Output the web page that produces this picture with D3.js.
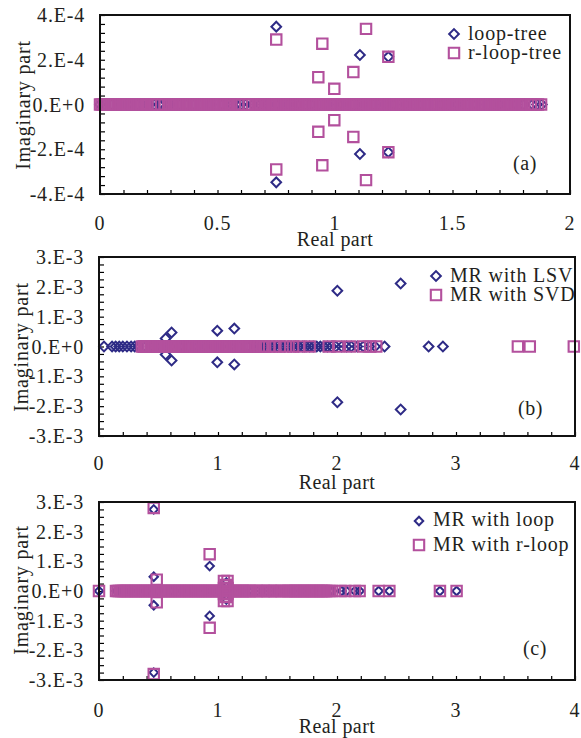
<!DOCTYPE html>
<html>
<head>
<meta charset="utf-8">
<script src="https://cdn.jsdelivr.net/npm/d3@7"></script>
<style>
body { margin: 0; background: #fff; }
svg text { font-family: "Liberation Serif", "Times New Roman", serif; fill: #231f20; }
</style>
</head>
<body>
<div id="chart"></div>
<script>
// Eigenvalue scatter plots, three panels stacked: (a), (b), (c).
// Each series is split into eigenvalues lying on the real axis and
// complex conjugate pairs (real part, |imaginary part|).

// ---------- Panel (a) ----------
var realTicksA = [0, 0.5, 1, 1.5, 2];
var realLabelsA = ['0', '0.5', '1', '1.5', '2'];
var imagTicksA = [4e-4, 2e-4, 0, -2e-4, -4e-4];
var imagLabelsA = ['4.E-4', '2.E-4', '0.E+0', '-2.E-4', '-4.E-4'];
var seriesNamesA = ['loop-tree', 'r-loop-tree'];

var loopTreeRealA = [0.000, 0.020, 0.050, 0.090, 0.100, 0.120, 0.130, 0.160, 0.200, 0.210,
	0.230, 0.250, 0.260, 0.290, 0.300, 0.340, 0.370, 0.400, 0.430, 0.470, 0.520, 0.560,
	0.580, 0.600, 0.620, 0.650, 0.680, 0.710, 0.750, 0.800, 0.840, 0.900, 0.970, 1.030,
	1.120, 1.210, 1.250, 1.300, 1.360, 1.450, 1.520, 1.600, 1.700, 1.770, 1.800, 1.840,
	1.860, 1.880];
var loopTreePairReA = [0.750, 1.106, 1.227];
var loopTreePairImA = [3.48e-4, 2.21e-4, 2.13e-4];

var rLoopTreeRealA = [0.000, 0.007, 0.015, 0.021, 0.030, 0.037, 0.045, 0.052, 0.058, 0.066,
	0.075, 0.083, 0.089, 0.097, 0.104, 0.112, 0.119, 0.126, 0.134, 0.141,
	0.149, 0.157, 0.164, 0.172, 0.178, 0.186, 0.193, 0.201, 0.216,
	0.231, 0.246, 0.261, 0.275, 0.290,
	0.298, 0.306, 0.313, 0.321, 0.327, 0.335, 0.342, 0.350, 0.357, 0.365,
	0.372, 0.380, 0.387, 0.395, 0.402, 0.410, 0.416, 0.424, 0.431, 0.439,
	0.447, 0.454, 0.462, 0.469, 0.477, 0.484, 0.491, 0.499, 0.506, 0.514,
	0.521, 0.529, 0.536, 0.544, 0.551, 0.558, 0.573, 0.588,
	0.603, 0.618, 0.633, 0.648, 0.663,
	0.670, 0.678, 0.685, 0.693, 0.700, 0.707, 0.715, 0.722, 0.730, 0.737,
	0.745, 0.752, 0.760, 0.767, 0.774, 0.782, 0.789, 0.797, 0.804, 0.812,
	0.819, 0.826, 0.834, 0.841, 0.849, 0.856, 0.863, 0.871, 0.878, 0.886,
	0.893, 0.901, 0.908, 0.915, 0.923, 0.930, 0.938, 0.945, 0.952, 0.960,
	0.967, 0.975, 0.982, 0.989, 0.997, 1.004, 1.012, 1.019, 1.027, 1.034,
	1.041, 1.049, 1.056, 1.064, 1.071, 1.078, 1.086, 1.093, 1.101, 1.108,
	1.115, 1.123, 1.130, 1.138, 1.145, 1.153, 1.160, 1.167, 1.175, 1.182,
	1.190, 1.197, 1.204, 1.212, 1.219, 1.227, 1.234, 1.241, 1.249, 1.256,
	1.264, 1.271, 1.279, 1.286, 1.293, 1.301, 1.308, 1.316, 1.323, 1.330,
	1.338, 1.345, 1.353, 1.360, 1.367, 1.375, 1.382, 1.390, 1.397, 1.405,
	1.412, 1.419, 1.427, 1.434, 1.442, 1.449, 1.456, 1.464, 1.471, 1.479,
	1.486, 1.494, 1.501, 1.508, 1.516, 1.523, 1.531, 1.538, 1.545, 1.553,
	1.560, 1.568, 1.575, 1.582, 1.590, 1.597, 1.605, 1.612, 1.620, 1.627,
	1.634, 1.642, 1.649, 1.657, 1.664, 1.671, 1.679, 1.686, 1.694, 1.701,
	1.708, 1.716, 1.723, 1.731, 1.738, 1.746, 1.753, 1.760, 1.768, 1.775,
	1.783, 1.790, 1.797, 1.805, 1.820, 1.834, 1.849, 1.864, 1.877];
var rLoopTreePairReA = [0.750, 0.929, 0.946, 0.997, 1.078, 1.132, 1.227];
var rLoopTreePairImA = [2.90e-4, 1.22e-4, 2.72e-4, 0.70e-4, 1.45e-4, 3.38e-4, 2.13e-4];

// ---------- Panel (b) ----------
var realTicksB = [0, 1, 2, 3, 4];
var realLabelsB = ['0', '1', '2', '3', '4'];
var imagTicksB = [3e-3, 2e-3, 1e-3, 0, -1e-3, -2e-3, -3e-3];
var imagLabelsB = ['3.E-3', '2.E-3', '1.E-3', '0.E+0', '-1.E-3', '-2.E-3', '-3.E-3'];
var seriesNamesB = ['MR with LSV', 'MR with SVD'];

var lsvRealB = [0.042, 0.110, 0.140, 0.170, 0.200, 0.235, 0.270, 0.300, 0.330,
	0.390, 0.450, 0.520, 0.600, 0.680, 0.750, 0.830, 0.900, 0.970, 1.020, 1.100, 1.180,
	1.250, 1.310, 1.350, 1.380, 1.410, 1.440, 1.470, 1.500, 1.530, 1.560, 1.590, 1.620,
	1.650, 1.680, 1.710, 1.740, 1.770, 1.800, 1.830, 1.860, 1.890, 1.920, 1.955, 1.990,
	2.040, 2.080, 2.120, 2.170, 2.220, 2.270, 2.320, 2.400, 2.770, 2.890];
var lsvPairReB = [0.560, 0.610, 0.994, 1.137, 2.003, 2.535];
var lsvPairImB = [0.27e-3, 0.47e-3, 0.53e-3, 0.60e-3, 1.87e-3, 2.11e-3];

var svdRealB = [0.360, 0.375, 0.389, 0.404, 0.419, 0.434, 0.449, 0.463, 0.478, 0.493,
	0.508, 0.523, 0.537, 0.552, 0.567, 0.582, 0.597, 0.611, 0.626, 0.641,
	0.656, 0.671, 0.685, 0.700, 0.715, 0.730, 0.745, 0.759, 0.774, 0.789,
	0.804, 0.819, 0.833, 0.848, 0.863, 0.878, 0.893, 0.907, 0.922, 0.937,
	0.952, 0.967, 0.981, 0.996, 1.011, 1.026, 1.041, 1.055, 1.070, 1.085,
	1.100, 1.115, 1.129, 1.144, 1.159, 1.174, 1.189, 1.203, 1.218, 1.233,
	1.248, 1.263, 1.277, 1.292, 1.318, 1.343, 1.370, 1.396,
	1.430, 1.470, 1.520, 1.570, 1.630, 1.680, 1.770, 1.930, 2.010, 2.110, 2.220, 2.280,
	2.330, 3.520, 3.620, 3.990];

// ---------- Panel (c) ----------
var realTicksC = [0, 1, 2, 3, 4];
var realLabelsC = ['0', '1', '2', '3', '4'];
var imagTicksC = [3e-3, 2e-3, 1e-3, 0, -1e-3, -2e-3, -3e-3];
var imagLabelsC = ['3.E-3', '2.E-3', '1.E-3', '0.E+0', '-1.E-3', '-2.E-3', '-3.E-3'];
var seriesNamesC = ['MR with loop', 'MR with r-loop'];

var loopRealC = [0.000, 0.148, 0.160, 0.200, 0.260, 0.330, 0.400, 0.500, 0.600, 0.700,
	0.800, 0.900, 1.000, 1.120, 1.200, 1.290, 1.330, 1.370, 1.410, 1.450, 1.500, 1.560,
	1.620, 1.700, 1.800, 1.900, 1.940, 1.960, 2.040, 2.080, 2.150, 2.190, 2.350, 2.440,
	2.865, 3.005];
var loopPairReC = [0.460, 0.460, 0.930, 1.070];
var loopPairImC = [0.48e-3, 2.75e-3, 0.84e-3, 0.29e-3];

var rLoopRealC = [0.000, 0.143, 0.158, 0.172, 0.187, 0.202, 0.217, 0.232, 0.246, 0.261, 0.276,
	0.291, 0.306, 0.320, 0.335, 0.350, 0.365, 0.380, 0.394, 0.409, 0.424,
	0.439, 0.454, 0.468, 0.483, 0.498, 0.513, 0.528, 0.542, 0.557, 0.572,
	0.587, 0.602, 0.616, 0.631, 0.646, 0.661, 0.676, 0.690, 0.705, 0.720,
	0.735, 0.750, 0.764, 0.779, 0.794, 0.809, 0.824, 0.838, 0.853, 0.868,
	0.883, 0.898, 0.912, 0.927, 0.942, 0.957, 0.972, 0.986, 1.001, 1.016,
	1.031, 1.046, 1.060, 1.075, 1.090, 1.105, 1.120, 1.134, 1.149, 1.164,
	1.179, 1.194, 1.208, 1.223, 1.238, 1.253, 1.268, 1.282, 1.297,
	1.327, 1.342, 1.356, 1.386, 1.401, 1.416, 1.445, 1.460,
	1.475, 1.504, 1.519, 1.534, 1.564, 1.578, 1.593, 1.608,
	1.623, 1.638, 1.652, 1.667, 1.682, 1.697, 1.712, 1.726, 1.741, 1.756,
	1.771, 1.786, 1.800, 1.815, 1.830, 1.845, 1.860, 1.874, 1.889, 1.904,
	1.919, 1.934, 1.960, 2.030, 2.070, 2.150, 2.190, 2.350, 2.440, 2.865, 3.005];
var rLoopPairReC = [0.460, 0.485, 0.930, 1.050, 1.080, 1.065, 1.050, 1.080];
var rLoopPairImC = [2.80e-3, 0.38e-3, 1.24e-3, 0.34e-3, 0.34e-3, 0.20e-3, 0.10e-3, 0.10e-3];

var DIAMOND_COLOR = '#2e2b86';
var SQUARE_COLOR = '#b3509d';
var FONT_SIZE = '20px';

var svg = d3.select('#chart').append('svg')
	.attr('width', 581)
	.attr('height', 738);

// toPoints: join on-axis reals and conjugate pairs into {re, im} points
function toPoints(reals, pairRe, pairIm) {
	var pts = reals.map(function(r) { return { re: r, im: 0 }; });
	pairRe.forEach(function(r, i) {
		pts.push({ re: r, im: pairIm[i] });
		pts.push({ re: r, im: -pairIm[i] });
	});
	return pts;
} // toPoints()

function drawPanel(p) {
	var x = d3.scaleLinear().domain(p.xDomain).range([p.left, p.right]);
	var y = d3.scaleLinear().domain(p.yDomain).range([p.bottom, p.top]);
	var g = svg.append('g').attr('class', 'panel');

	var diamond = d3.symbol().type(d3.symbolSquare).size(p.diamondSize);
	var square = d3.symbol().type(d3.symbolSquare).size(108);

	// minor + major ticks, pointing inward
	g.append('g')
		.attr('transform', 'translate(0,' + p.bottom + ')')
		.call(d3.axisBottom(x).tickValues(d3.range(p.xDomain[0], p.xDomain[1] + 1e-9, p.xMinor))
			.tickSizeInner(-4).tickSizeOuter(0).tickFormat(''))
		.call(function(a) { a.select('.domain').remove(); a.selectAll('line').attr('stroke-width', 1.2); });
	g.append('g')
		.attr('transform', 'translate(' + p.left + ',0)')
		.call(d3.axisLeft(y).tickValues(d3.range(p.yDomain[0], p.yDomain[1] + 1e-12, p.yMinor))
			.tickSizeInner(-5).tickSizeOuter(0).tickFormat(''))
		.call(function(a) { a.select('.domain').remove(); a.selectAll('line').attr('stroke-width', 1.2); });

	// diamonds underneath, squares on top
	g.append('g').selectAll('path')
		.data(toPoints(p.s1Real, p.s1PairRe, p.s1PairIm))
		.enter().append('path')
		.attr('d', diamond)
		.attr('transform', function(d) { return 'translate(' + x(d.re) + ',' + y(d.im) + ') rotate(45)'; })
		.attr('fill', 'none')
		.attr('stroke', DIAMOND_COLOR)
		.attr('stroke-width', 2);
	g.append('g').selectAll('path')
		.data(toPoints(p.s2Real, p.s2PairRe, p.s2PairIm))
		.enter().append('path')
		.attr('d', square)
		.attr('transform', function(d) { return 'translate(' + x(d.re) + ',' + y(d.im) + ')'; })
		.attr('fill', 'none')
		.attr('stroke', SQUARE_COLOR)
		.attr('stroke-width', 2.1);

	// plot frame
	g.append('rect')
		.attr('x', p.left).attr('y', p.top)
		.attr('width', p.right - p.left).attr('height', p.bottom - p.top)
		.attr('fill', 'none').attr('stroke', '#111').attr('stroke-width', 2);

	// tick labels
	g.append('g').selectAll('text')
		.data(p.xTicks)
		.enter().append('text')
		.attr('x', function(d) { return x(d); })
		.attr('y', p.xLabelY)
		.attr('text-anchor', 'middle')
		.style('font-size', FONT_SIZE).style('letter-spacing', '0.8px')
		.text(function(d, i) { return p.xLabels[i]; });
	g.append('g').selectAll('text')
		.data(p.yTicks)
		.enter().append('text')
		.attr('x', p.left - 15)
		.attr('y', function(d) { return y(d) + 7; })
		.attr('text-anchor', 'end')
		.style('font-size', FONT_SIZE).style('letter-spacing', '0.8px')
		.text(function(d, i) { return p.yLabels[i]; });

	// axis titles
	g.append('text')
		.attr('x', (p.left + p.right) / 2).attr('y', p.xTitleY)
		.attr('text-anchor', 'middle')
		.style('font-size', FONT_SIZE).style('letter-spacing', '0.4px')
		.text('Real part');
	g.append('text')
		.attr('transform', 'translate(' + p.yTitleX + ',' + p.yTitleY + ') rotate(-90)')
		.attr('text-anchor', 'middle')
		.style('font-size', FONT_SIZE).style('letter-spacing', '0.8px')
		.text('Imaginary part');

	// legend
	var leg = g.append('g');
	leg.append('path')
		.attr('d', diamond)
		.attr('transform', 'translate(' + p.legX + ',' + p.legY[0] + ') rotate(45)')
		.attr('fill', 'none').attr('stroke', DIAMOND_COLOR).attr('stroke-width', 2);
	leg.append('path')
		.attr('d', square)
		.attr('transform', 'translate(' + p.legX + ',' + p.legY[1] + ')')
		.attr('fill', 'none').attr('stroke', SQUARE_COLOR).attr('stroke-width', 2.1);
	leg.selectAll('text')
		.data(p.names)
		.enter().append('text')
		.attr('x', p.legX + 14)
		.attr('y', function(d, i) { return p.legTextY[i]; })
		.style('font-size', FONT_SIZE).style('letter-spacing', '0.8px')
		.text(function(d) { return d; });

	g.append('text')
		.attr('x', p.tagX).attr('y', p.tagY)
		.style('font-size', FONT_SIZE).style('letter-spacing', '0.6px')
		.text(p.tag);
} // drawPanel()

drawPanel({
	left: 100, right: 570, top: 15, bottom: 194,
	xDomain: [0, 2], yDomain: [-4e-4, 4e-4], xMinor: 0.1, yMinor: 0.4e-4,
	xTicks: realTicksA, xLabels: realLabelsA, yTicks: imagTicksA, yLabels: imagLabelsA,
	xLabelY: 230, xTitleY: 246, yTitleX: 30, yTitleY: 105,
	s1Real: loopTreeRealA, s1PairRe: loopTreePairReA, s1PairIm: loopTreePairImA,
	s2Real: rLoopTreeRealA, s2PairRe: rLoopTreePairReA, s2PairIm: rLoopTreePairImA,
	diamondSize: 47, names: seriesNamesA,
	legX: 454, legY: [34, 53], legTextY: [40, 59],
	tag: '(a)', tagX: 513, tagY: 170
});

drawPanel({
	left: 99, right: 575, top: 257, bottom: 436,
	xDomain: [0, 4], yDomain: [-3e-3, 3e-3], xMinor: 0.2, yMinor: 0.25e-3,
	xTicks: realTicksB, xLabels: realLabelsB, yTicks: imagTicksB, yLabels: imagLabelsB,
	xLabelY: 470, xTitleY: 489, yTitleX: 28, yTitleY: 347,
	s1Real: lsvRealB, s1PairRe: lsvPairReB, s1PairIm: lsvPairImB,
	s2Real: svdRealB, s2PairRe: [], s2PairIm: [],
	diamondSize: 47, names: seriesNamesB,
	legX: 436, legY: [276, 295], legTextY: [282, 301],
	tag: '(b)', tagX: 518, tagY: 415
});

drawPanel({
	left: 99, right: 575, top: 502, bottom: 680,
	xDomain: [0, 4], yDomain: [-3e-3, 3e-3], xMinor: 0.2, yMinor: 0.25e-3,
	xTicks: realTicksC, xLabels: realLabelsC, yTicks: imagTicksC, yLabels: imagLabelsC,
	xLabelY: 717, xTitleY: 733, yTitleX: 28, yTitleY: 590,
	s1Real: loopRealC, s1PairRe: loopPairReC, s1PairIm: loopPairImC,
	s2Real: rLoopRealC, s2PairRe: rLoopPairReC, s2PairIm: rLoopPairImC,
	diamondSize: 36, names: seriesNamesC,
	legX: 419, legY: [521, 545], legTextY: [526, 551],
	tag: '(c)', tagX: 523, tagY: 655
});
</script>
</body>
</html>
